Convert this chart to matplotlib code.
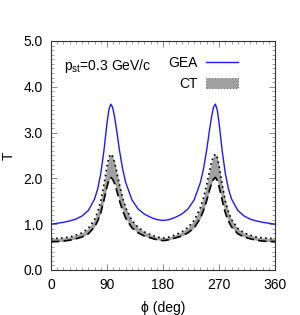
import matplotlib
matplotlib.use("Agg")
import matplotlib.pyplot as plt
from matplotlib.patches import Patch
from matplotlib.lines import Line2D
from matplotlib.ticker import MultipleLocator

plt.rcParams['font.family'] = ['Liberation Sans', 'DejaVu Sans']
plt.rcParams['mathtext.fontset'] = 'custom'
plt.rcParams['mathtext.rm'] = 'Liberation Sans'
plt.rcParams['mathtext.it'] = 'Liberation Sans:italic'

# half-range data (0..180 deg), mirrored to 360 (symmetric about 180)
phi_half = [0, 10, 20, 30, 40, 50, 60, 70, 75, 80, 85, 90, 93, 96, 99, 102, 105,
            110, 115, 120, 130, 140, 150, 160, 170, 180]
gea_half = [1.00, 1.02, 1.04, 1.07, 1.11, 1.18, 1.30, 1.55, 1.77, 2.11, 2.60, 3.21,
            3.50, 3.62, 3.55, 3.35, 3.09, 2.61, 2.21, 1.91, 1.53, 1.33, 1.22, 1.15,
            1.10, 1.08]
ct_up_half = [0.68, 0.69, 0.70, 0.72, 0.76, 0.81, 0.91, 1.10, 1.27, 1.51, 1.86, 2.27,
              2.46, 2.53, 2.48, 2.36, 2.18, 1.86, 1.58, 1.36, 1.08, 0.93, 0.83, 0.77,
              0.72, 0.70]
ct_lo_half = [0.62, 0.62, 0.63, 0.65, 0.68, 0.72, 0.79, 0.94, 1.07, 1.25, 1.52, 1.82,
              1.96, 2.02, 1.98, 1.89, 1.76, 1.51, 1.30, 1.13, 0.92, 0.81, 0.74, 0.70,
              0.66, 0.64]

phi = phi_half + [360 - p for p in reversed(phi_half[:-1])]
gea = gea_half + list(reversed(gea_half[:-1]))
ct_up = ct_up_half + list(reversed(ct_up_half[:-1]))
ct_lo = ct_lo_half + list(reversed(ct_lo_half[:-1]))

fig = plt.figure(figsize=(3.0, 3.15), dpi=100)
ax = fig.add_axes([0.17, 0.143, 0.747, 0.727])

ax.fill_between(phi, ct_lo, ct_up, color='#a0a0a0', lw=0)
ax.plot(phi, ct_up, color='black', ls=(0, (1, 2)), lw=1.2)
ax.plot(phi, ct_lo, color='black', ls=(0, (5, 2.5)), lw=1.2)
ax.plot(phi, gea, color='#1a1aff', lw=1.0)

ax.set_xlim(0, 360)
ax.set_ylim(0, 5)
ax.xaxis.set_major_locator(MultipleLocator(90))
ax.xaxis.set_minor_locator(MultipleLocator(10))
ax.yaxis.set_major_locator(MultipleLocator(1))
ax.yaxis.set_minor_locator(MultipleLocator(0.1))
ax.yaxis.set_major_formatter(matplotlib.ticker.FormatStrFormatter('%.1f'))
ax.tick_params(which='both', direction='in', top=True, right=True, labelsize=10,
               color='#777777')
ax.tick_params(which='major', length=4, width=0.6, pad=6)
ax.tick_params(which='minor', length=2, width=0.5)
for s in ax.spines.values():
    s.set_linewidth(0.8)
    s.set_color('#333333')

ax.set_xlabel('ϕ (deg)', fontsize=10, labelpad=6)
fig.text(0.03, 0.506, 'T', rotation=90, ha='center', va='center', fontsize=10)

ax.text(0.058, 0.875, r'$\mathrm{p_{st}}$=0.3 GeV/c', transform=ax.transAxes,
        fontsize=10, va='baseline')

handles = [Line2D([], [], color='#1a1aff', lw=1.0),
           Patch(facecolor='#a0a0a0', edgecolor='#666666', ls=':', lw=0.8)]
ax.legend(handles, ['GEA', 'CT'], loc='upper right', bbox_to_anchor=(0.89, 0.99),
          frameon=False, markerfirst=False, fontsize=10, handlelength=2.3,
          handletextpad=0.6, labelspacing=0.5)

fig.savefig('out.png', dpi=100)
